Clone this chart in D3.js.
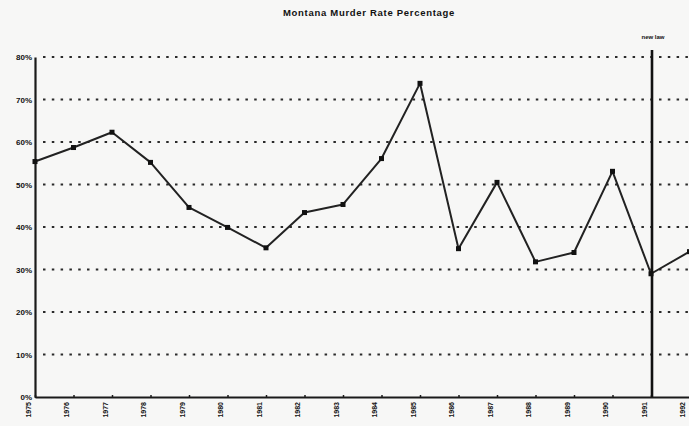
<!DOCTYPE html>
<html>
<head>
<meta charset="utf-8">
<script src="https://cdn.jsdelivr.net/npm/d3@7"></script>
<style>
  html, body { margin: 0; padding: 0; background: #f7f7f6; }
  svg { display: block; }
  text { font-family: "Liberation Sans", Arial, sans-serif; font-weight: bold; fill: #111; }
</style>
</head>
<body>
<svg id="chart" width="689" height="426"></svg>
<script>
const years = ["1975","1976","1977","1978","1979","1980","1981","1982","1983","1984","1985","1986","1987","1988","1989","1990","1991","1992"];
const rates = [55.4, 58.7, 62.3, 55.2, 44.6, 39.9, 35.1, 43.4, 45.3, 56.1, 73.8, 34.9, 50.5, 31.8, 34.0, 53.1, 29.0, 34.2];
const yTicks = [0, 10, 20, 30, 40, 50, 60, 70, 80];
const yTickLabels = ["0%", "10%", "20%", "30%", "40%", "50%", "60%", "70%", "80%"];
const markerYear = "1991";
const markerLabel = "new law";
const chartTitle = "Montana Murder Rate Percentage";

(function () {
const svg = d3.select("#chart");
const mLeft = 35, mRight = 689.5, mTop = 57, mBottom = 397;

const x = d3.scalePoint().domain(years).range([mLeft, mRight]);
const y = d3.scaleLinear().domain([0, 80]).range([mBottom, mTop]);

// title
svg.append("text").attr("x", 369).attr("y", 16).attr("text-anchor", "middle")
  .style("font-size", "9.5px").style("letter-spacing", "0.7px").text(chartTitle);

// gridlines
svg.append("g").selectAll("line").data(yTicks.filter(d => d > 0)).join("line")
  .attr("x1", mLeft + 8).attr("x2", 689)
  .attr("y1", d => y(d)).attr("y2", d => y(d))
  .attr("stroke", "#2a2a2a").attr("stroke-width", 2.2)
  .attr("stroke-dasharray", "2.5,6.3");

// y axis
const yAxis = d3.axisLeft(y).tickValues(yTicks).tickSize(0).tickPadding(3)
  .tickFormat((d, i) => yTickLabels[i]);
const gy = svg.append("g").attr("transform", `translate(${mLeft},0)`).call(yAxis);
gy.select(".domain").attr("stroke", "#1a1a1a").attr("stroke-width", 2.2);
gy.selectAll("text").style("font-size", "8px").attr("fill", "#111")
  .style("font-family", "Liberation Sans, Arial, sans-serif").style("font-weight", "bold");

// x axis
const xAxis = d3.axisBottom(x).tickSize(3).tickSizeOuter(0).tickPadding(4);
const gx = svg.append("g").attr("transform", `translate(0,${mBottom})`).call(xAxis);
gx.select(".domain").attr("stroke", "#1a1a1a").attr("stroke-width", 2);
gx.selectAll(".tick line").attr("stroke", "#1a1a1a").attr("stroke-width", 1.5).attr("y1", -2).attr("y2", 1);
gx.selectAll(".tick text")
  .style("font-size", "7px").style("font-family", "Liberation Sans, Arial, sans-serif").style("font-weight", "bold")
  .attr("fill", "#111")
  .attr("text-anchor", "end")
  .attr("x", -5).attr("y", 0).attr("dy", "0.35em")
  .attr("transform", "translate(-7,0) rotate(-90)");

// marker vertical line
svg.append("line")
  .attr("x1", x(markerYear) + 1).attr("x2", x(markerYear) + 1)
  .attr("y1", 50).attr("y2", mBottom)
  .attr("stroke", "#111").attr("stroke-width", 2.6);
svg.append("text").attr("x", x(markerYear) + 2).attr("y", 39).attr("text-anchor", "middle")
  .style("font-size", "6px").text(markerLabel);

// line
const line = d3.line().x((d, i) => x(years[i])).y(d => y(d));
svg.append("path").datum(rates)
  .attr("d", line).attr("fill", "none")
  .attr("stroke", "#222").attr("stroke-width", 2).attr("stroke-linejoin", "round");

svg.append("g").selectAll("rect").data(rates).join("rect")
  .attr("x", (d, i) => x(years[i]) - 2.5).attr("y", d => y(d) - 2.5)
  .attr("width", 5).attr("height", 5).attr("fill", "#111");
})();
</script>
</body>
</html>
